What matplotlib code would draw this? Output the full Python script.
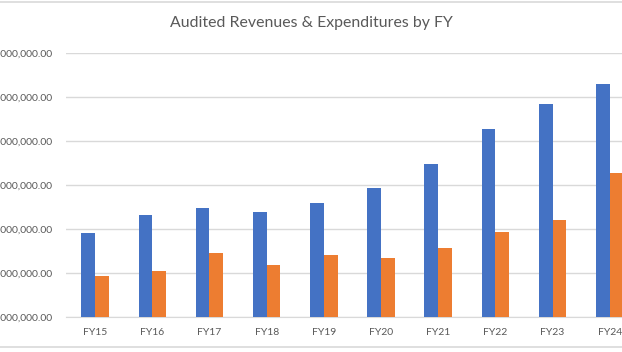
import numpy as np
import matplotlib
matplotlib.use("Agg")
import matplotlib.pyplot as plt
from matplotlib.lines import Line2D
from matplotlib.ticker import FuncFormatter

# data (millions of dollars)
years = ["FY15", "FY16", "FY17", "FY18", "FY19", "FY20", "FY21", "FY22", "FY23", "FY24"]
revenues = [29.1, 33.3, 34.8, 33.8, 36.0, 39.3, 44.8, 52.7, 58.3, 63.0]
expenditures = [19.4, 20.5, 24.5, 21.8, 24.2, 23.5, 25.8, 29.3, 32.0, 42.8]
yticks = [10, 20, 30, 40, 50, 60, 70]

blue = "#4472C4"
orange = "#ED7D31"
grid = "#D9D9D9"
txt = "#595959"

plt.rcParams['font.family'] = ['Lato', 'DejaVu Sans']

fig = plt.figure(figsize=(6.22, 3.52), dpi=100)
ax = fig.add_axes([0.1068, 0.0986, 0.9196, 0.751])

x = np.arange(len(years))
w = 0.24
ax.bar(x - w/2, revenues, w, color=blue, zorder=3)
ax.bar(x + w/2, expenditures, w, color=orange, zorder=3)

ax.set_xlim(-0.5, len(years) - 0.5)
ax.set_ylim(yticks[0], yticks[-1])
ax.set_yticks(yticks)
ax.yaxis.set_major_formatter(FuncFormatter(lambda v, p: "{:,.2f}".format(v * 1e6)))
ax.set_xticks(x)
ax.set_xticklabels(years)
ax.grid(axis='y', color=grid, linewidth=1, zorder=0)
for s in ['top', 'right', 'left']:
    ax.spines[s].set_visible(False)
ax.spines['bottom'].set_color(grid)
ax.tick_params(axis='both', length=0, labelsize=7.5, labelcolor=txt)
ax.tick_params(axis='y', pad=10)
ax.tick_params(axis='x', pad=8)

fig.text(0.5, 0.935, "Audited Revenues & Expenditures by FY", ha='center', va='center',
         fontsize=11.4, color=txt)

# chart border lines at top and bottom
fig.add_artist(Line2D([0, 1], [0.994, 0.994], color=grid, linewidth=1.2, transform=fig.transFigure))
fig.add_artist(Line2D([0, 1], [0.015, 0.015], color=grid, linewidth=1.2, transform=fig.transFigure))

fig.savefig("out.png", dpi=100)
